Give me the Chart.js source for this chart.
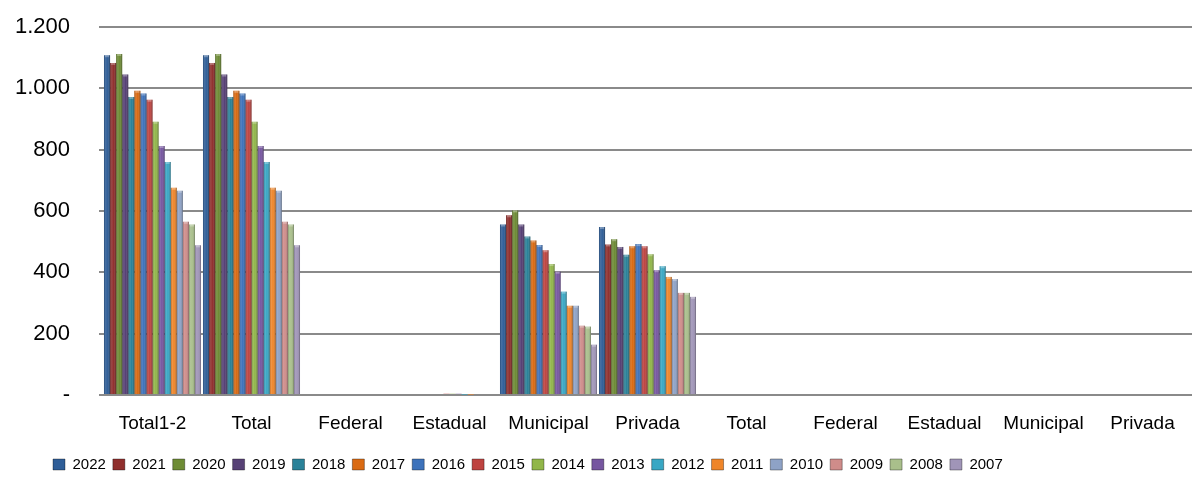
<!DOCTYPE html>
<html lang="pt-BR">
<head>
<meta charset="utf-8">
<title>Matrículas por dependência</title>
<script src="https://cdn.jsdelivr.net/npm/chart.js@4"></script>
<style>
  html, body { margin: 0; padding: 0; background: #fff; }
  #wrap { position: relative; width: 1192px; height: 480px; }
</style>
</head>
<body>
<div id="wrap"><canvas id="grafico"></canvas></div>
<script>
// categorias do eixo x
const categorias = ['Total1-2', 'Total', 'Federal', 'Estadual', 'Municipal', 'Privada',
  'Total', 'Federal', 'Estadual', 'Municipal', 'Privada'];

// anos (séries)
const anos = ['2022', '2021', '2020', '2019', '2018', '2017', '2016', '2015',
  '2014', '2013', '2012', '2011', '2010', '2009', '2008', '2007'];

// valores por categoria, na ordem dos anos acima
const total12   = [1108, 1083, 1112, 1045, 972, 992, 983, 963, 891, 812, 760, 676, 666, 565, 556, 488];
const total     = [1108, 1083, 1112, 1045, 972, 992, 983, 963, 891, 812, 760, 676, 666, 565, 556, 488];
const federal   = [0, 0, 0, 0, 0, 0, 0, 0, 0, 0, 0, 0, 0, 0, 0, 0];
const estadual  = [0, 0, 0, 0, 0, 0, 0, 4, 4, 4, 1.5, 1.5, 0, 0, 0, 0];
const municipal = [556, 586, 602, 556, 517, 504, 489, 472, 427, 402, 337, 291, 291, 226, 223, 164];
const privada   = [548, 491, 508, 483, 457, 485, 492, 485, 459, 407, 420, 385, 378, 333, 333, 320];
const vazio     = [0, 0, 0, 0, 0, 0, 0, 0, 0, 0, 0, 0, 0, 0, 0, 0];

const colunas = [total12, total, federal, estadual, municipal, privada,
  vazio, vazio, vazio, vazio, vazio];

// cores estilo Office
const cores = ['#2f5e98', '#902f2d', '#6e8c35', '#574176', '#2a8299', '#da6a12',
  '#3d72bb', '#be4340', '#91b649', '#7656a0', '#38a7c4', '#ef8529',
  '#8ea2c6', '#cf8c8a', '#a9bf8b', '#a095b8'];

const fonte = 'Liberation Sans, Arial, sans-serif';

function milhar(v) {
  if (v === 0) return '-';
  return String(v).replace(/\B(?=(\d{3})+(?!\d))/g, '.');
}

const datasets = anos.map((ano, i) => ({
  label: ano,
  data: colunas.map(c => c[i]),
  backgroundColor: cores[i],
  borderWidth: 0,
  categoryPercentage: 0.98,
  barPercentage: 1.0
}));

// brilho sobre as barras (efeito do Excel)
const brilho = {
  id: 'brilho',
  afterLayout(chart) {
    // legenda começa mais à direita, como no original
    chart.legend.left = 46;
    chart.legend.top += 2;
  },
  afterDatasetsDraw(chart) {
    const ctx = chart.ctx;
    chart.data.datasets.forEach((ds, i) => {
      const meta = chart.getDatasetMeta(i);
      meta.data.forEach(bar => {
        const h = bar.base - bar.y;
        if (!(h > 0.5)) return;
        const x0 = bar.x - bar.width / 2;
        const g = ctx.createLinearGradient(x0, 0, x0 + bar.width, 0);
        g.addColorStop(0, 'rgba(0,0,0,0.22)');
        g.addColorStop(0.3, 'rgba(255,255,255,0.12)');
        g.addColorStop(0.55, 'rgba(255,255,255,0)');
        g.addColorStop(1, 'rgba(0,0,0,0.38)');
        ctx.save();
        ctx.fillStyle = g;
        ctx.fillRect(x0, bar.y, bar.width, h);
        ctx.fillStyle = 'rgba(255,255,255,0.3)';
        ctx.fillRect(x0 + 1, bar.y, bar.width - 2, Math.min(2, h));
        ctx.restore();
      });
    });
  }
};

new Chart(document.getElementById('grafico'), {
  type: 'bar',
  data: { labels: categorias, datasets },
  plugins: [brilho],
  options: {
    responsive: true,
    maintainAspectRatio: false,
    animation: false,
    layout: { padding: { left: 0, right: 0, top: 27, bottom: 0 } },
    plugins: {
      tooltip: { enabled: false },
      legend: {
        position: 'bottom',
        align: 'start',
        labels: {
          font: { family: fonte, size: 15 },
          color: '#000',
          boxWidth: 12,
          boxHeight: 11,
          padding: 7,
          generateLabels(chart) {
            return chart.data.datasets.map((ds, i) => ({
              text: ds.label,
              fillStyle: ds.backgroundColor,
              strokeStyle: 'rgba(0,0,0,0.35)',
              lineWidth: 1,
              datasetIndex: i
            }));
          }
        }
      }
    },
    scales: {
      x: {
        grid: { display: false },
        border: { display: false },
        ticks: {
          font: { family: fonte, size: 19 },
          color: '#000',
          padding: 9,
          maxRotation: 0,
          autoSkip: false
        },
        afterFit(scale) { scale.height = 53; }
      },
      y: {
        min: 0,
        max: 1200,
        border: { display: false },
        grid: { color: '#8a8a8a', lineWidth: 2, tickLength: 4 },
        ticks: {
          stepSize: 200,
          font: { family: fonte, size: 22 },
          color: '#000',
          padding: 29,
          callback: v => milhar(v)
        },
        afterFit(scale) {
          scale.width = 103;
          scale.paddingTop = 0;
          scale.paddingBottom = 0;
        }
      }
    }
  }
});
</script>
</body>
</html>
